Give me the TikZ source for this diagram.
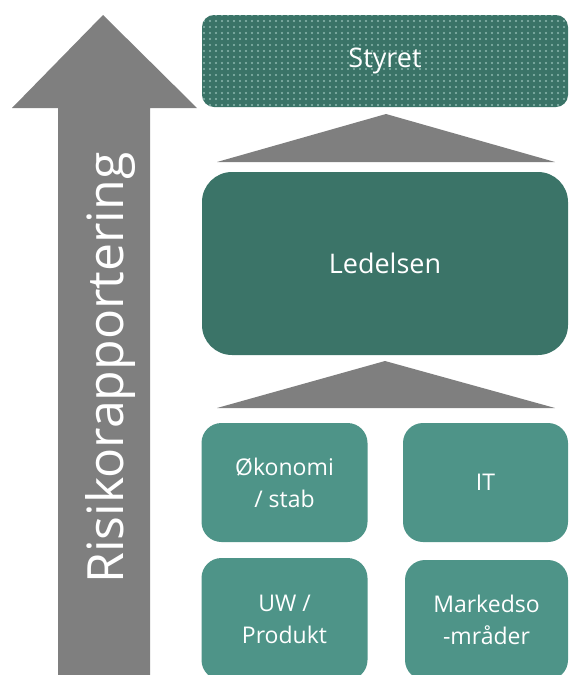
\documentclass[tikz,border=0pt]{standalone}
\usepackage{fontspec}
\setmainfont{Open Sans}
\usepackage{xcolor}
\usepackage{tikz}
\usetikzlibrary{patterns.meta}
\definecolor{boardteal}{HTML}{3A7367}
\definecolor{dotteal}{HTML}{8DB8AF}
\definecolor{mgmtteal}{HTML}{3B7468}
\definecolor{unitteal}{HTML}{4E9488}
\definecolor{arrowgray}{HTML}{7F7F7F}

\begin{document}
\begin{tikzpicture}[
    x=1pt, y=-1pt,
    box/.style={rectangle, minimum width=366pt, text=white, align=center, inner sep=0pt, font=\fontsize{27}{32}\selectfont},
    unit/.style={rectangle, fill=unitteal, rounded corners=20pt, text=white, align=center, inner sep=0pt, font=\fontsize{23}{32}\selectfont},
    tri/.style={fill=arrowgray}
]
    \useasboundingbox (0,0) rectangle (568,675);

    % Big arrow
    \fill[arrowgray] (58,680) -- (58,108) -- (12,108) -- (103,15) -- (197,108) -- (150,108) -- (150,680) -- cycle;
    \node[rotate=90, anchor=base, text=white, font=\fontsize{50}{56}\selectfont] (risk) at (123,368) {Risikorapportering};

    % Board
    \node[box, minimum height=92pt, rounded corners=12pt, fill=boardteal,
        postaction={pattern={Dots[radius=1.1pt, distance=6pt]}, pattern color=dotteal}] (styret) at (385,61) {Styret};

    % Management
    \node[box, minimum height=183pt, rounded corners=30pt, fill=mgmtteal] (ledelsen) at (385,263.5) {Ledelsen};

    % Triangles
    \fill[tri] (217,162) -- (386,114) -- (555,162) -- cycle;
    \fill[tri] (217,408) -- (385,361) -- (555,408) -- cycle;

    % Units
    \node[unit, minimum width=166pt, minimum height=119pt] (okonomi) at (284.5,482.5) {Økonomi\\/ stab};
    \node[unit, minimum width=165pt, minimum height=119pt] (it) at (485.5,482.5) {IT};
    \node[unit, minimum width=166pt, minimum height=122pt] (uw) at (284.5,619) {UW /\\Produkt};
    \node[unit, minimum width=163pt, minimum height=120pt] (marked) at (486.5,620) {Markedso\\-mråder};
\end{tikzpicture}
\end{document}
